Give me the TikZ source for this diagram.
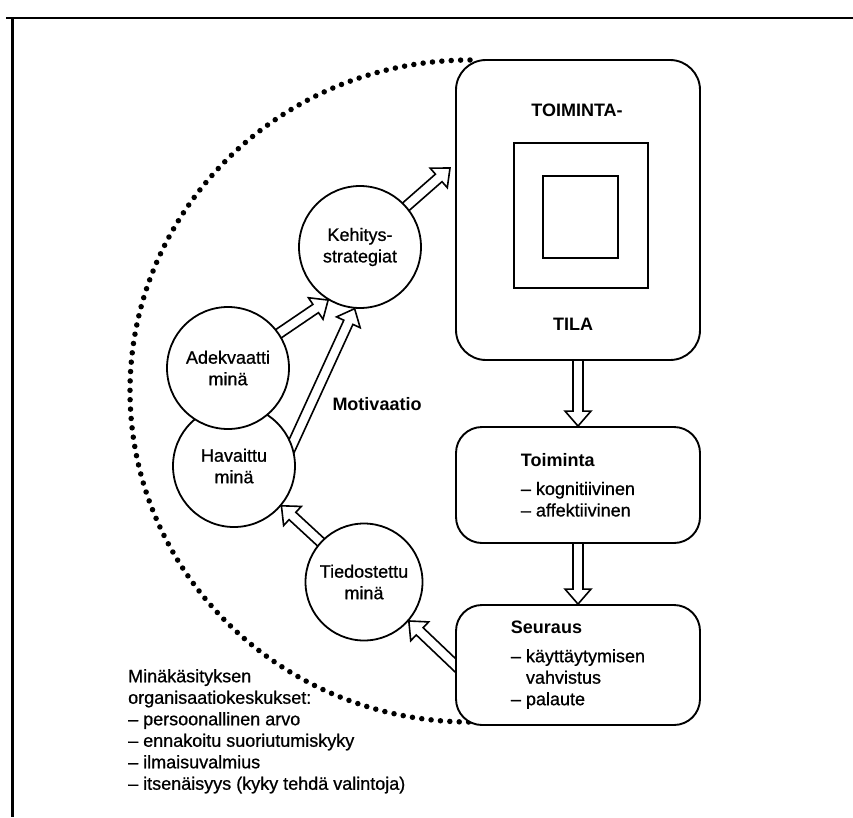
\documentclass[tikz,border=0pt]{standalone}
\usepackage{fontspec}
\setmainfont{Liberation Sans}[UprightFeatures={FakeBold=0.8}]
\tikzset{selfcircle/.style = {draw, circle, line width=1.8pt, fill=white, minimum size=122pt, inner sep=0pt, align=center}}
\tikzset{roundbox/.style = {draw, rounded corners=26pt, line width=1.9pt, fill=white, align=left, inner sep=0pt, minimum width=244pt}}
\tikzset{hollow/.style = {line width=1.6pt, fill=white, line join=miter}}
\tikzset{dotline/.style = {line width=5.5pt, line cap=round, dash pattern=on 0pt off 9.4pt}}
\newcommand{\hollowarrow}[2]{%
	\path ($(#1)!-8pt!(#2)$) coordinate (ha) ($(#2)!15pt!(#1)$) coordinate (hb);
	\draw [hollow] ($(ha)!5pt!90:(#2)$) -- ($(hb)!5pt!90:(#2)$) -- ($(hb)!13pt!90:(#2)$) -- (#2)
		-- ($(hb)!13pt!-90:(#2)$) -- ($(hb)!5pt!-90:(#2)$) -- ($(ha)!5pt!-90:(#2)$);}
\usetikzlibrary{calc,backgrounds}

\begin{document}
\begin{tikzpicture}[x=1pt, y=-1pt, font=\fontsize{18}{21.5}\selectfont]
	\useasboundingbox (0,0) rectangle (853,817);
	\draw [line width=2pt] (6,18) -- (853,18);
	\draw [line width=2.6pt] (12.5,18) -- (12.5,817);
	\node [roundbox, rounded corners=30pt, minimum height=300pt] (tila) at (578,210) {};
	\node [font=\fontsize{18}{21.5}\selectfont\bfseries] (tilatop) at (577,110) {TOIMINTA-};
	\node [font=\fontsize{18}{21.5}\selectfont\bfseries] (tilabot) at (573,324) {TILA};
	\draw [line width=1.8pt] (514,143) rectangle (648,288);
	\draw [line width=1.8pt] (543,176) rectangle (618,258);
	\node [roundbox, minimum height=116pt] (toim) at (578,485) {\textbf{Toiminta}\\[7pt]– kognitiivinen\\– affektiivinen};
	\node [roundbox, minimum height=120pt] (seur) at (578,665) {\textbf{Seuraus}\\[7pt]– käyttäytymisen\\\hphantom{– }vahvistus\\– palaute};
	\node [selfcircle] (keh) at (360,247) {Kehitys-\\strategiat};
	\node [selfcircle] (hav) at (234,466) {Havaittu\\minä};
	\node [selfcircle] (ade) at (228,368) {Adekvaatti\\minä};
	\node [selfcircle, minimum size=117pt] (tie) at (364,582) {Tiedostettu\\minä};
	\node [font=\fontsize{18}{21.5}\selectfont\bfseries] (motiv) at (377,404) {Motivaatio};
	\node [anchor=north west, align=left, inner sep=0pt] (keskukset) at (128,669) {Minäkäsityksen\\organisaatiokeskukset:\\– persoonallinen arvo\\– ennakoitu suoriutumiskyky\\– ilmaisuvalmius\\– itsenäisyys (kyky tehdä valintoja)};
	\coordinate (tilain) at (450,168);
	\begin{scope}[on background layer]
		\draw [dotline] (470,60) arc [start angle=270, end angle=90, x radius=340, y radius=331];
		\hollowarrow{keh}{tilain}
		\hollowarrow{ade}{keh.239}
		\hollowarrow{hav.20}{keh.265}
		\hollowarrow{tie}{hav.-40}
		\hollowarrow{seur.west}{tie.-41}
		\hollowarrow{tila.south}{toim.north}
		\hollowarrow{toim.south}{seur.north}
	\end{scope}
\end{tikzpicture}
\end{document}
